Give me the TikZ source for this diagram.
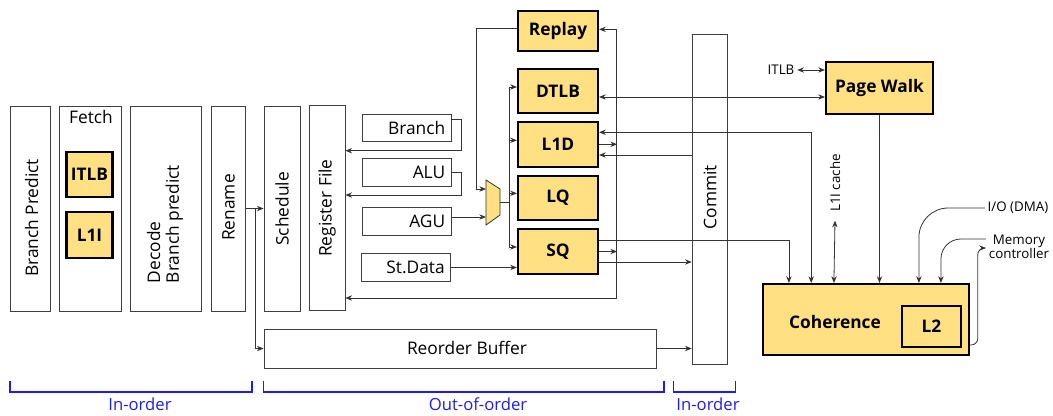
\documentclass[tikz,border=0pt]{standalone}
\usepackage{fontspec}
\setmainfont{Open Sans}
\usetikzlibrary{arrows.meta,calc}
\definecolor{gold}{RGB}{255,224,130}
\definecolor{phase}{RGB}{30,30,235}

\begin{document}
\begin{tikzpicture}[x=0.75pt,y=-0.75pt,
  font=\fontsize{13}{15}\selectfont,
  stagebox/.style={draw=black!75, line width=0.6pt, fill=white, inner sep=0pt},
  execbox/.style={stagebox, minimum height=20.6pt, text width=58pt, align=right, inner xsep=4.4pt},
  unit/.style={draw=black, line width=1.6pt, fill=gold, inner sep=0pt, font=\fontsize{13}{15}\selectfont\bfseries},
  vtext/.style={rotate=90, inner sep=0pt},
  wire/.style={draw=black!80, line width=0.6pt},
  arr/.style={wire, -{Stealth[length=5pt,width=4pt]}},
  biarr/.style={wire, {Stealth[length=5pt,width=4pt]}-{Stealth[length=5pt,width=4pt]}},
  small/.style={font=\fontsize{10}{10.5}\selectfont, inner sep=2pt},
  phasebrace/.style={draw=phase, line width=0.9pt},
  phaselabel/.style={text=phase, inner sep=0pt, anchor=base, font=\fontsize{12.5}{14}\selectfont}
]
\useasboundingbox (0,0) rectangle (1053,415);

% ---------------- front end ----------------
\node[stagebox, minimum width=30pt, minimum height=153.75pt] (bp) at (30,208.5) {};
\node[vtext] (bpt) at (31.7,218) {Branch Predict};
\node[stagebox, minimum width=46.5pt, minimum height=153.75pt] (fetch) at (90,208.5) {};
\node[inner sep=0pt] (fetcht) at (91,117) {Fetch};
\node[unit, minimum width=34.5pt, minimum height=33.75pt] (itlb) at (89.5,174.5) {ITLB};
\node[unit, minimum width=34.5pt, minimum height=34.5pt] (l1i) at (89.5,235) {L1I};
\node[stagebox, minimum width=53.25pt, minimum height=153.75pt] (dec) at (165.5,208.5) {};
\node[vtext, align=left, font=\fontsize{13}{14}\selectfont] (dect) at (165,224) {Decode\\Branch predict};
\node[stagebox, minimum width=25.9pt, minimum height=153.75pt] (ren) at (228.25,208.5) {};
\node[vtext] (rent) at (228.5,207.5) {Rename};

% ---------------- out-of-order core ----------------
\node[stagebox, minimum width=27pt, minimum height=153.75pt] (sch) at (282,208.5) {};
\node[vtext] (scht) at (282,209) {Schedule};
\node[stagebox, minimum width=27pt, minimum height=153.75pt] (rf) at (327,208) {};
\node[vtext] (rft) at (327,208) {Register File};

\node[execbox] (branch) at (406.5,127.75) {Branch};
\node[execbox] (alu) at (406.5,172.5) {ALU};
\node[execbox] (agu) at (406.5,221.5) {AGU};
\node[execbox] (std) at (406,267.5) {St.Data};

\node[unit, minimum width=60pt, minimum height=30pt] (replay) at (558,30.85) {Replay};
\node[unit, minimum width=60pt, minimum height=33pt] (dtlb) at (558,91) {DTLB};
\node[unit, minimum width=60pt, minimum height=33.5pt] (l1d) at (558,144.3) {L1D};
\node[unit, minimum width=60pt, minimum height=33pt] (lq) at (558,197.85) {LQ};
\node[unit, minimum width=60pt, minimum height=33.5pt] (sq) at (558,251.5) {SQ};

% address multiplexer
\draw[wire, fill=gold] (486,180) -- (500,189) -- (500,215) -- (486,225) -- cycle;
\coordinate (mxa) at (486,189);
\coordinate (mxb) at (486,217);
\coordinate (mxo) at (500,202);
\coordinate (bus) at (509,202);

\node[stagebox, minimum width=26.8pt, minimum height=247.5pt] (commit) at (710,199) {};
\node[vtext] (committ) at (710,197) {Commit};
\node[stagebox, minimum width=294pt, minimum height=29.25pt] (rob) at (460,348.5) {};
\node[inner sep=0pt] (robt) at (467,348) {Reorder Buffer};

% ---------------- memory side ----------------
\node[unit, minimum width=80.25pt, minimum height=39pt] (pw) at (879.5,88) {Page Walk};
\node[unit, minimum width=154.3pt, minimum height=53.25pt] (coh) at (865.85,319.5) {};
\node[inner sep=0pt, font=\fontsize{13}{15}\selectfont\bfseries] (coht) at (835,322) {Coherence};
\node[unit, minimum width=44pt, minimum height=30.5pt] (l2) at (931.35,326.35) {L2};

\node[small] (itlbl) at (781,70) {ITLB};
\node[small, rotate=90] (l1ic) at (835,183) {L1I cache};
\node[small] (io) at (1018,208) {I/O (DMA)};
\node[small, align=center] (mem) at (1019,247) {Memory\\controller};

% ---------------- connections ----------------
\draw[arr] (ren.east) -- (ren.east -| sch.west);
\draw[arr] ($(ren.east)+(9.5,0)$) |- (rob.west);
\draw[arr] (rob.east) -- (rob.east -| commit.west);

\draw[arr] ($(branch.east)+(0,-8.75)$) -- ++(10,0) |- ($(rf.east)+(0,-57.3)$);
\draw[arr] ($(alu.east)+(0,-0.5)$) -- ++(10,0) |- ($(rf.east)+(0,-13)$);
\draw[arr] ($(agu.east)+(0,-4.5)$) -- (mxb);
\draw[arr] (std.east) -- (std.east -| sq.west);
\draw[arr] ($(replay.west)+(0,-2.5)$) -- ++(-41,0) |- (mxa);

\draw[wire] (mxo) -- (bus);
\draw[arr] (bus) |- ($(dtlb.west)+(0,-4)$);
\draw[arr] (bus) |- ($(l1d.west)+(0,-4)$);
\draw[arr] (bus) |- ($(lq.west)+(0,-4.5)$);
\draw[arr] (bus) |- ($(sq.west)+(0,-4.5)$);

\draw[biarr] ($(rf.east)+(0,90)$) -| ($(replay.east)+(17,-1.5)$) -- ($(replay.east)+(0,-1.5)$);
\draw[arr] (l1d.east) -- ++(18,0);
\draw[arr] (sq.east) -- ++(18,0);
\draw[arr] ($(sq.east)+(0,10.5)$) coordinate (p) -- (p -| commit.west);
\draw[arr] ($(commit.west)+(0,-44)$) coordinate (p) -- (p -| l1d.east);

\draw[biarr] ($(dtlb.east)+(0,6)$) coordinate (p) -- (p -| pw.west);
\draw[biarr] (itlbl.east) -- (itlbl.east -| pw.west);
\draw[biarr] ($(l1d.east)+(0,-12)$) -| ($(coh.north west)+(49.3,0)$);
\draw[arr] ($(sq.east)+(0,-11.5)$) -| ($(coh.north west)+(27,0)$);
\draw[biarr] ($(l1ic.west)+(0,6)$) -- ($(coh.north west)+(72,0)$);
\draw[arr] (pw.south) -- (pw.south |- coh.north);
\draw[arr, rounded corners=22pt] (io.west) -| ($(coh.north west)+(157,0)$);
\draw[arr, rounded corners=15pt] ($(mem.west)+(0,-8)$) -| ($(coh.north west)+(179,0)$);
\draw[arr, rounded corners=5pt] ($(coh.east)+(0,25.5)$) -- ++(8,0) |- ($(mem.west)+(0,1)$);

% ---------------- pipeline phases ----------------
\draw[phasebrace] (10,381) -- (10,392) -- (252,392) -- (252,381);
\draw[phasebrace] (263.5,381) -- (263.5,392) -- (664,392) -- (664,381);
\draw[phasebrace] (673.5,381) -- (673.5,392) -- (735.5,392) -- (735.5,381);
\node[phaselabel] (ph1) at (140,410.5) {In-order};
\node[phaselabel] (ph2) at (478,410.5) {Out-of-order};
\node[phaselabel] (ph3) at (708,410.5) {In-order};
\end{tikzpicture}
\end{document}
